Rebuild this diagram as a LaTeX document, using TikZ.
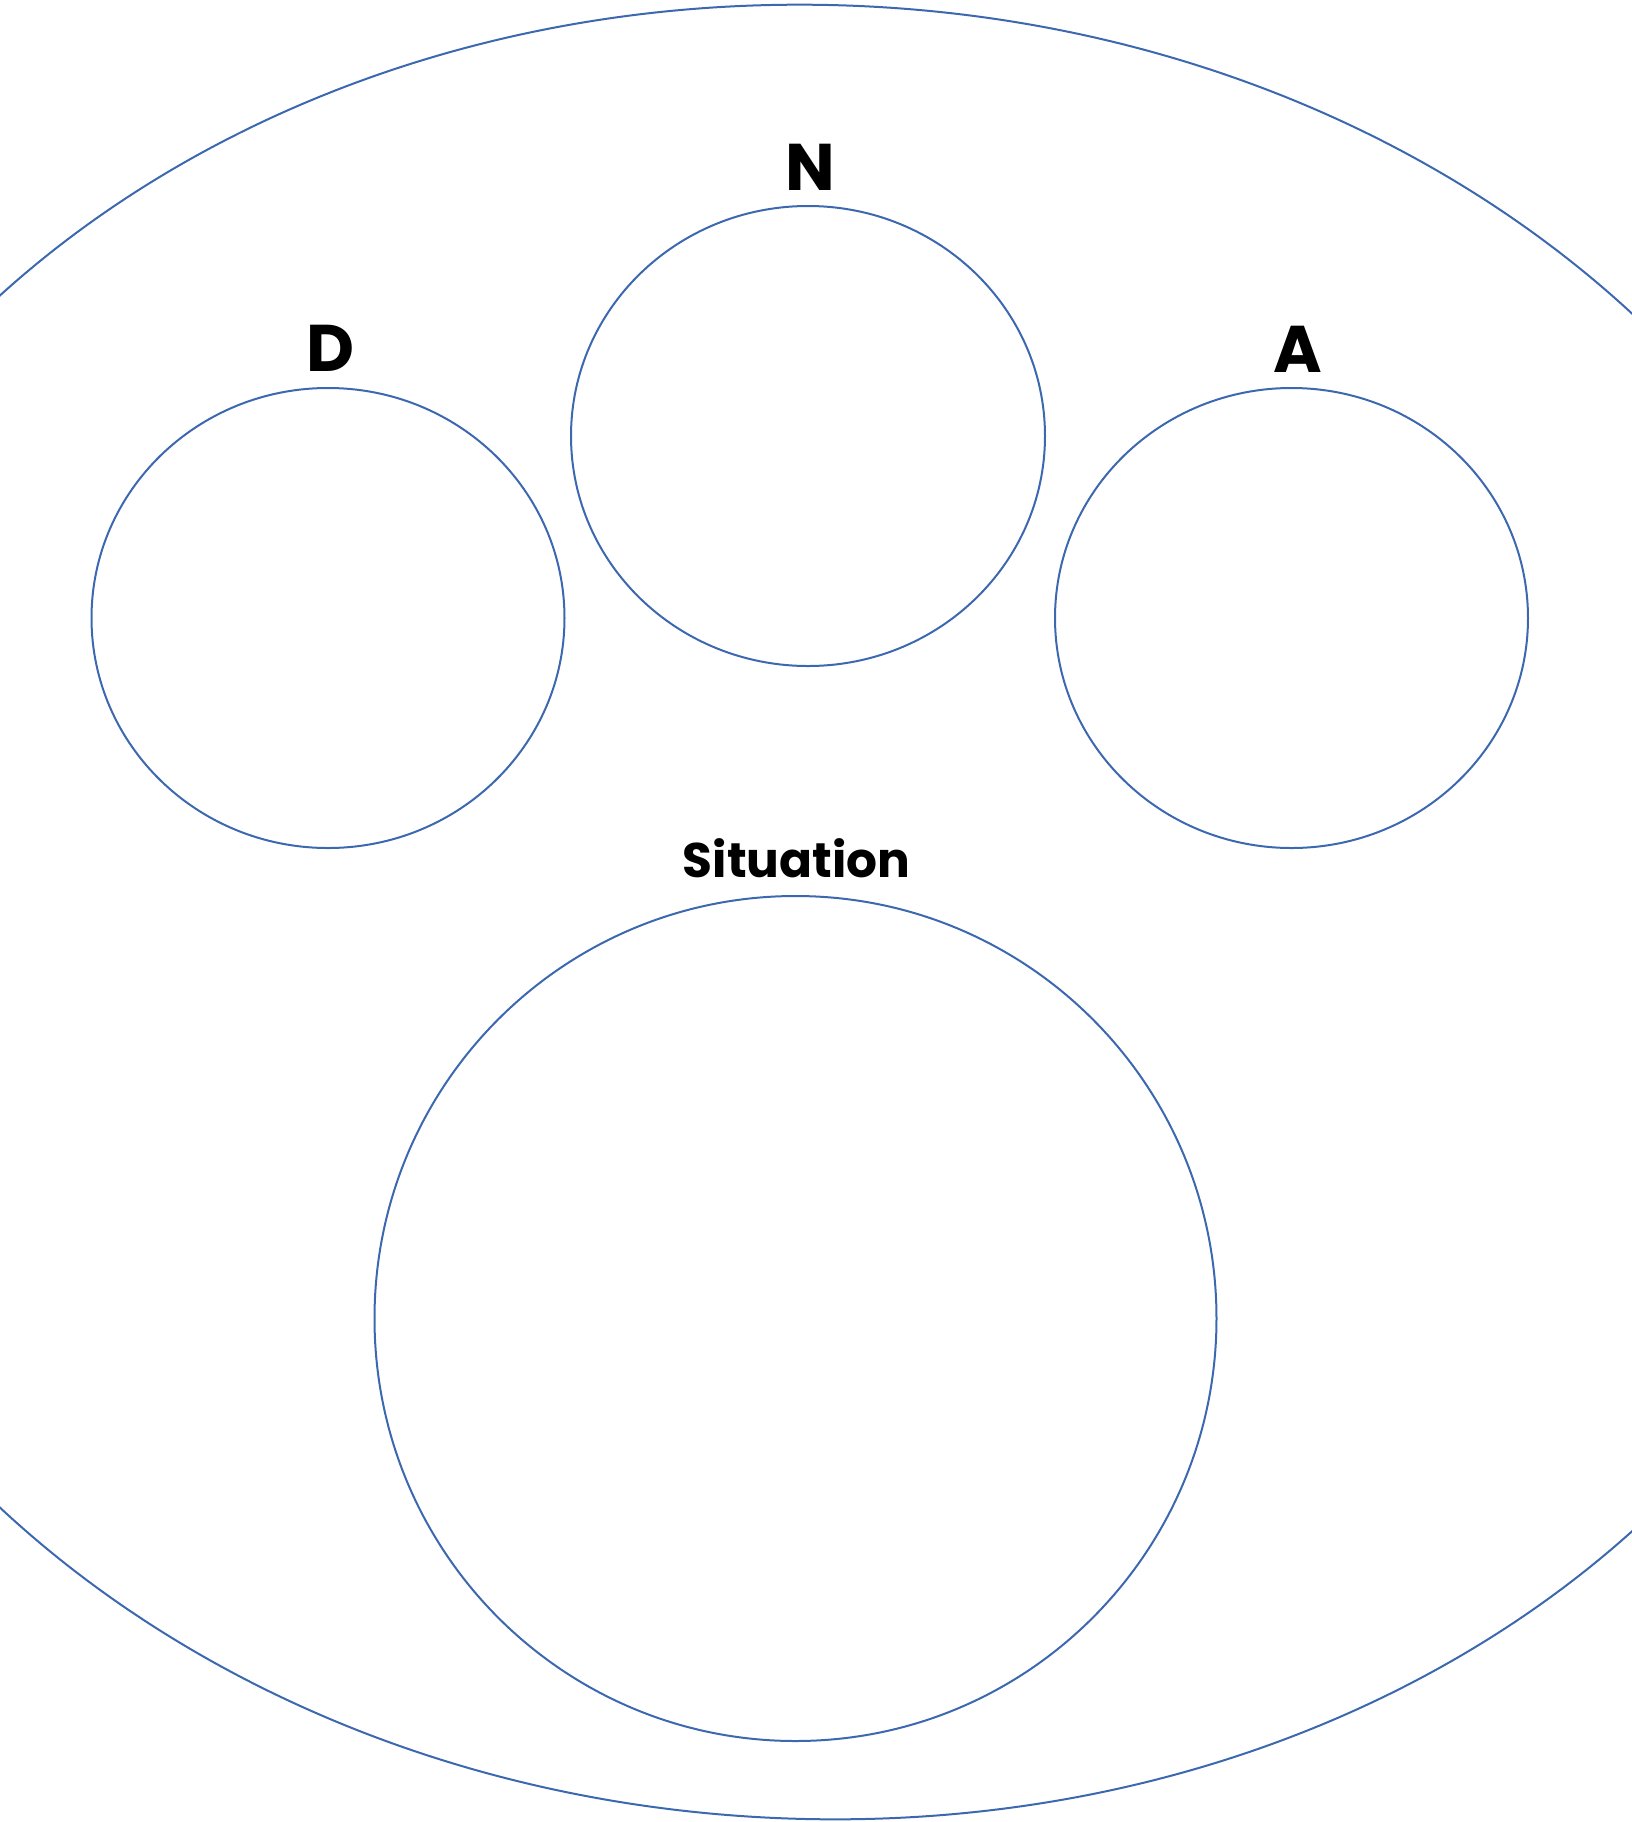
\documentclass[tikz,border=0pt]{standalone}
\usepackage{fontspec}
\setmainfont{Poppins}
\usetikzlibrary{shapes.geometric}
\definecolor{linecol}{RGB}{60,104,176}
\tikzset{
  ring/.style={draw=linecol, line width=1pt, ellipse, inner sep=0pt},
  biglabel/.style={anchor=base, inner sep=0pt, font=\bfseries\fontsize{33}{38}\selectfont},
  midlabel/.style={anchor=base, inner sep=0pt, font=\bfseries\fontsize{24.3}{29}\selectfont}
}
\begin{document}
\begin{tikzpicture}[x=0.5pt,y=-0.5pt]
\useasboundingbox (0,0) rectangle (1632,1822);
\node[ring, minimum width=1099pt, minimum height=907pt, rotate=-2.3] (outer) at (817.5,912) {};
\node[ring, minimum width=236.5pt, minimum height=230pt] (D) at (328,618) {};
\node[ring, minimum width=237pt, minimum height=230pt] (N) at (808,436) {};
\node[ring, minimum width=236.5pt, minimum height=230pt] (A) at (1291.5,618) {};
\node[ring, minimum width=421pt, minimum height=422.5pt] (S) at (795.5,1318.5) {};
\node[biglabel] (Nl) at (810,190.7) {N};
\node[biglabel] (Dl) at (330.8,371.7) {D};
\node[biglabel] (Al) at (1298,372) {A};
\node[midlabel] (Sl) at (796.7,877) {Situation};
\end{tikzpicture}
\end{document}
